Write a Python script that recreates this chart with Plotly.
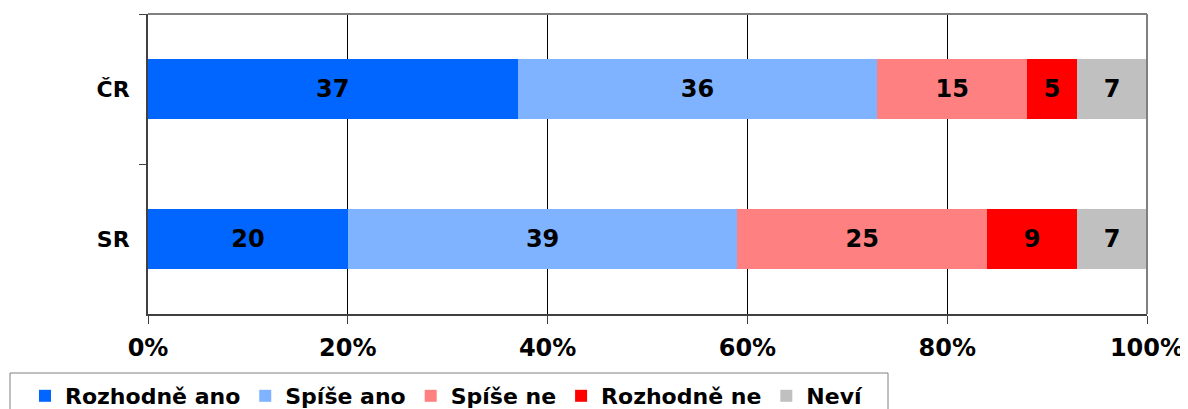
import plotly.graph_objects as go

categories = ["ČR", "SR"]
series_names = ["Rozhodně ano", "Spíše ano", "Spíše ne", "Rozhodně ne", "Neví"]
rozhodne_ano = [37, 20]
spise_ano = [36, 39]
spise_ne = [15, 25]
rozhodne_ne = [5, 9]
nevi = [7, 7]
colors = ["#0066FF", "#80B3FF", "#FF8080", "#FF0000", "#C0C0C0"]
tick_vals = [0, 20, 40, 60, 80, 100]
tick_text = ["0%", "20%", "40%", "60%", "80%", "100%"]

FONT = "DejaVu Sans"
series = [rozhodne_ano, spise_ano, spise_ne, rozhodne_ne, nevi]

# page body has an 8px margin; plot area should be at x 148..1147, y 13..313 on the page
OFF = 8
PL, PT, PW, PH = 148 - OFF, 13 - OFF + 1, 999, 300
W, H = 1188 - OFF, 409 - OFF


def px_x(page_x):
    return (page_x - 148) / PW


def px_y(page_y):
    return (314 - page_y) / PH


fig = go.Figure()
for name, vals, col in zip(series_names, series, colors):
    fig.add_trace(go.Bar(
        name=name, y=categories, x=vals, orientation="h",
        marker=dict(color=col, line=dict(width=0)),
        text=[str(v) for v in vals], textposition="inside",
        insidetextanchor="middle", constraintext="none",
        textfont=dict(family=FONT, size=24, color="black", weight="bold"),
        hoverinfo="skip",
    ))

fig.update_layout(
    barmode="stack", bargap=0.6,
    width=W, height=H,
    margin=dict(l=PL, r=W - PL - PW, t=PT, b=H - PT - PH, autoexpand=False),
    plot_bgcolor="white", paper_bgcolor="white",
    font=dict(family=FONT, size=20, color="black", weight="bold"),
    xaxis=dict(range=[0, 100], tickvals=tick_vals, ticktext=tick_text,
               showgrid=True, gridcolor="black", gridwidth=1,
               showline=True, linecolor="#404040", linewidth=2,
               ticks="outside", ticklen=8, tickcolor="#404040", tickwidth=1,
               ticklabelstandoff=3,
               tickfont=dict(family=FONT, size=24, color="black", weight="bold"),
               zeroline=False, fixedrange=True),
    yaxis=dict(autorange="reversed", type="category",
               showline=True, linecolor="#404040", linewidth=2,
               ticks="outside", ticklen=7, tickcolor="#404040", tickwidth=1,
               tickson="boundaries", showgrid=False,
               ticklabelstandoff=12,
               tickfont=dict(family=FONT, size=22, color="black", weight="bold")),
    legend=dict(orientation="h", x=px_x(25), xanchor="left",
                y=px_y(375), yanchor="top",
                borderwidth=0, bgcolor="rgba(0,0,0,0)",
                font=dict(family=FONT, size=22, color="black", weight="bold"),
                traceorder="normal", itemclick=False),
    shapes=[
        dict(type="line", xref="paper", yref="paper", x0=0, x1=1, y0=1, y1=1,
             line=dict(color="#808080", width=2)),
        dict(type="line", xref="paper", yref="paper", x0=1, x1=1, y0=0, y1=1,
             line=dict(color="#808080", width=2)),
        dict(type="rect", xref="paper", yref="paper",
             x0=px_x(10), x1=px_x(888), y0=px_y(373), y1=px_y(430),
             line=dict(color="#808080", width=1), fillcolor="rgba(0,0,0,0)",
             layer="below"),
    ],
)

fig.write_html("out.html")
